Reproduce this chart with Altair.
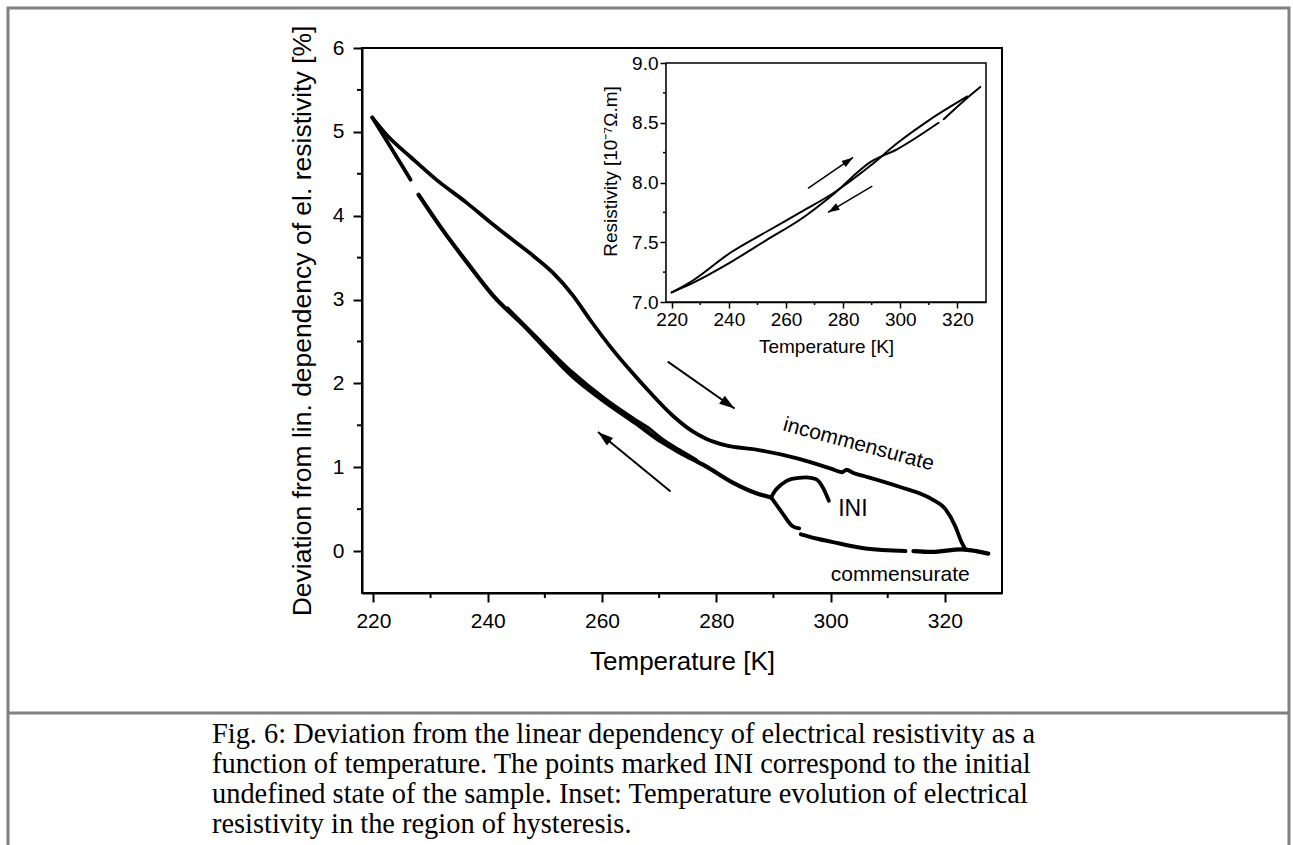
import math
import altair as alt
import pandas as pd

# ---------------- main plot: deviation from linear dependency [%] vs T [K] ----------------
heat_T = [219.8, 222.5, 226.5, 231.0, 236.4, 240.5, 244.4, 248.0, 251.4, 254.9, 258.0, 261.9,
          265.0, 268.3, 272.3, 275.8, 278.2, 281.7, 287.0, 294.5, 300.2, 302.0, 302.8, 304.0,
          306.1, 311.9, 317.7, 320.1, 321.8, 322.9, 323.6]
heat_D = [5.17, 4.95, 4.70, 4.43, 4.15, 3.92, 3.71, 3.52, 3.32, 3.05, 2.75, 2.40,
          2.15, 1.90, 1.62, 1.43, 1.34, 1.26, 1.21, 1.10, 0.98, 0.94, 0.97, 0.93,
          0.89, 0.77, 0.62, 0.50, 0.30, 0.11, 0.02]

cool_a_T = [219.8, 223.0, 226.5]
cool_a_D = [5.17, 4.82, 4.43]

cool_b_T = [227.9, 231.7, 236.4, 240.9, 246.6, 254.9, 260.5, 265.8, 270.5, 273.5, 278.2,
            282.8, 287.0, 289.6]
cool_b_D = [4.25, 3.87, 3.44, 3.05, 2.67, 2.08, 1.78, 1.53, 1.30, 1.18, 1.01,
            0.82, 0.69, 0.64]

# second trace running alongside the cooling branch (thick double band)
band_T = [243.5, 248.0, 254.9, 260.5, 265.8, 268.5, 270.5, 273.5, 276.5]
band_D = [2.90, 2.59, 2.13, 1.82, 1.57, 1.45, 1.34, 1.21, 1.09]

ini_T = [289.6, 290.3, 291.3, 293.2, 295.7, 297.4, 298.8, 299.7]
ini_D = [0.64, 0.72, 0.79, 0.86, 0.88, 0.86, 0.74, 0.60]

drop_T = [289.6, 291.5, 293.3, 294.5]
drop_D = [0.64, 0.46, 0.30, 0.27]

comm_a_T = [294.8, 297.5, 300.2, 306.1, 313.1]
comm_a_D = [0.20, 0.15, 0.11, 0.03, 0.00]

comm_b_T = [314.5, 317.7, 322.9, 325.5, 327.6]
comm_b_D = [0.00, -0.01, 0.02, 0.00, -0.03]

# ---------------- inset: resistivity [1e-7 Ohm m] vs T [K] ----------------
ins_a_T = [220.0, 227.4, 240.4, 253.3, 265.0, 276.5, 289.5, 299.0, 310.0, 323.5]
ins_a_R = [7.08, 7.18, 7.41, 7.59, 7.75, 7.91, 8.14, 8.33, 8.52, 8.72]
ins_b_T = [220.0, 227.4, 240.4, 253.3, 265.0, 276.5, 289.5, 299.0, 313.4]
ins_b_R = [7.08, 7.16, 7.33, 7.52, 7.69, 7.90, 8.17, 8.28, 8.50]
ins_c_T = [315.2, 323.5, 328.0]
ins_c_R = [8.53, 8.71, 8.80]

# axis ticks
main_x_major = [220, 240, 260, 280, 300, 320]
main_x_minor = [230, 250, 270, 290, 310]
main_y_major = [0, 1, 2, 3, 4, 5, 6]
main_y_minor = [0.5, 1.5, 2.5, 3.5, 4.5, 5.5]
ins_x_major = [220, 240, 260, 280, 300, 320]
ins_x_minor = [230, 250, 270, 290, 310]
ins_y_major = [7.0, 7.5, 8.0, 8.5, 9.0]
ins_y_minor = [7.25, 7.75, 8.25, 8.75]

# arrows (start -> end)
m_arrow_T0 = [271.5, 272.0]
m_arrow_D0 = [2.26, 0.71]
m_arrow_T1 = [283.2, 259.3]
m_arrow_D1 = [1.70, 1.42]

i_arrow_T0 = [267.7, 290.2]
i_arrow_R0 = [7.95, 7.97]
i_arrow_T1 = [283.5, 274.7]
i_arrow_R1 = [8.21, 7.75]

# annotations
note_text = ["incommensurate", "INI", "commensurate"]
note_T = [304.9, 303.9, 312.2]
note_D = [1.27, 0.50, -0.29]

caption_lines = [
    "Fig. 6: Deviation from the linear dependency of electrical resistivity as a",
    "function of temperature. The points marked INI correspond to the initial",
    "undefined state of the sample. Inset: Temperature evolution of electrical",
    "resistivity in the region of hysteresis.",
]

# ---------------- layout ----------------
W, H = 640, 545
PAD = {"left": 362, "top": 48, "right": 291, "bottom": 252}
XD_MAIN = [218, 330]
YD_MAIN = [-0.5, 6]
XD_INS = [218, 330]
YD_INS = [7.0, 9.0]
INS_X = [304, 624]
INS_Y = [254, 15]

FONT = "Liberation Sans"


def seg_frame(name, xs, ys, xc, yc, w):
    return pd.DataFrame({xc: xs, yc: ys, "seg": name, "w": w, "i": list(range(len(xs)))})


main_df = pd.concat([
    seg_frame("heat", heat_T, heat_D, "T", "D", 3.8),
    seg_frame("cool_a", cool_a_T, cool_a_D, "T", "D", 3.8),
    seg_frame("cool_b", cool_b_T, cool_b_D, "T", "D", 4.2),
    seg_frame("band", band_T, band_D, "T", "D", 3.0),
    seg_frame("ini", ini_T, ini_D, "T", "D", 3.8),
    seg_frame("drop", drop_T, drop_D, "T", "D", 3.8),
    seg_frame("comm_a", comm_a_T, comm_a_D, "T", "D", 4.0),
    seg_frame("comm_b", comm_b_T, comm_b_D, "T", "D", 4.2),
], ignore_index=True)

ins_df = pd.concat([
    seg_frame("a", ins_a_T, ins_a_R, "T", "R", 2),
    seg_frame("b", ins_b_T, ins_b_R, "T", "R", 2),
    seg_frame("c", ins_c_T, ins_c_R, "T", "R", 2),
], ignore_index=True)

sx_m = W / (XD_MAIN[1] - XD_MAIN[0])
sy_m = H / (YD_MAIN[1] - YD_MAIN[0])
sx_i = (INS_X[1] - INS_X[0]) / (XD_INS[1] - XD_INS[0])
sy_i = (INS_Y[0] - INS_Y[1]) / (YD_INS[1] - YD_INS[0])


def head_angle(x0, y0, x1, y1, sx, sy):
    a = math.degrees(math.atan2((x1 - x0) * sx, (y1 - y0) * sy))
    return a % 360


m_arrow_df = pd.DataFrame({"T0": m_arrow_T0, "D0": m_arrow_D0, "T1": m_arrow_T1, "D1": m_arrow_D1})
m_arrow_df["ang"] = [head_angle(a, b, c, d, sx_m, sy_m) for a, b, c, d in
                     zip(m_arrow_T0, m_arrow_D0, m_arrow_T1, m_arrow_D1)]
i_arrow_df = pd.DataFrame({"T0": i_arrow_T0, "R0": i_arrow_R0, "T1": i_arrow_T1, "R1": i_arrow_R1})
i_arrow_df["ang"] = [head_angle(a, b, c, d, sx_i, sy_i) for a, b, c, d in
                     zip(i_arrow_T0, i_arrow_R0, i_arrow_T1, i_arrow_R1)]

note_df = pd.DataFrame({"txt": note_text, "T": note_T, "D": note_D,
                        "ang": [15, 0, 0], "fs": [21, 23, 21]})

HEAD = "M0,0L-0.7,2.2L0.7,2.2Z"


def xs_main():
    return alt.Scale(domain=XD_MAIN, nice=False, zero=False)


def ys_main():
    return alt.Scale(domain=YD_MAIN, nice=False, zero=False)


def xs_ins():
    return alt.Scale(domain=XD_INS, range=INS_X, nice=False, zero=False)


def ys_ins():
    return alt.Scale(domain=YD_INS, range=INS_Y, nice=False, zero=False)


# ---------------- main plot ----------------
x_axis_main = alt.Axis(
    values=main_x_major, tickSize=9, labelFontSize=21, titleFontSize=26,
    labelPadding=8, titlePadding=17, domainWidth=2, tickWidth=2, grid=False,
    labelOverlap=False, labelFlush=False, title="Temperature [K]",
)
y_axis_main = alt.Axis(
    values=main_y_major, tickSize=9, labelFontSize=21, titleFontSize=26.5,
    labelPadding=9, titlePadding=16, domainWidth=2, tickWidth=2, grid=False,
    labelOverlap=False, title="Deviation from lin. dependency of el. resistivity [%]",
)

curves = alt.Chart(main_df).mark_line(
    color="black", interpolate="monotone", strokeCap="round", strokeJoin="round"
).encode(
    x=alt.X("T:Q", scale=xs_main(), axis=x_axis_main),
    y=alt.Y("D:Q", scale=ys_main(), axis=y_axis_main),
    strokeWidth=alt.StrokeWidth("w:Q", scale=None),
    detail="seg:N",
    order="i:Q",
)

mx_minor = alt.Chart(pd.DataFrame({"v": main_x_minor})).mark_rule(color="black", strokeWidth=2).encode(
    x=alt.X("v:Q", scale=xs_main(), axis=None),
    y=alt.value(H), y2=alt.value(H + 5),
)
my_minor = alt.Chart(pd.DataFrame({"v": main_y_minor})).mark_rule(color="black", strokeWidth=2).encode(
    y=alt.Y("v:Q", scale=ys_main(), axis=None),
    x=alt.value(0), x2=alt.value(-5),
)

m_shafts = alt.Chart(m_arrow_df).mark_rule(color="black", strokeWidth=2).encode(
    x=alt.X("T0:Q", scale=xs_main(), axis=None),
    y=alt.Y("D0:Q", scale=ys_main(), axis=None),
    x2="T1:Q", y2="D1:Q",
)
m_heads = alt.Chart(m_arrow_df).mark_point(
    shape=HEAD, filled=True, color="black", opacity=1, size=196, strokeWidth=0
).encode(
    x=alt.X("T1:Q", scale=xs_main(), axis=None),
    y=alt.Y("D1:Q", scale=ys_main(), axis=None),
    angle=alt.Angle("ang:Q", scale=None),
)

notes = alt.Chart(note_df).mark_text(font=FONT, color="black", align="center", baseline="middle").encode(
    x=alt.X("T:Q", scale=xs_main(), axis=None),
    y=alt.Y("D:Q", scale=ys_main(), axis=None),
    text="txt:N",
    angle=alt.Angle("ang:Q", scale=None),
    size=alt.Size("fs:Q", scale=None),
)

# ---------------- inset ----------------
x_axis_ins = alt.Axis(
    orient="bottom", offset=-(H - INS_Y[0]),
    values=ins_x_major, tickSize=6, labelFontSize=19, titleFontSize=19,
    labelPadding=2, titlePadding=8, domainWidth=1.5, tickWidth=1.5, grid=False,
    labelOverlap=False, labelFlush=False, title="Temperature [K]",
)
y_axis_ins = alt.Axis(
    orient="left", offset=-INS_X[0],
    values=ins_y_major, format=".1f", tickSize=6, labelFontSize=19, titleFontSize=19,
    labelPadding=2, titlePadding=11, domainWidth=1.5, tickWidth=1.5, grid=False,
    labelOverlap=False, title="Resistivity [10⁻⁷Ω.m]", titleY=123,
)

frame_df = pd.DataFrame({"x0": [XD_INS[0]], "x1": [XD_INS[1]], "y0": [YD_INS[0]], "y1": [YD_INS[1]]})
ins_frame = alt.Chart(frame_df).mark_rect(fill="white", stroke="black", strokeWidth=1.5).encode(
    x=alt.X("x0:Q", scale=xs_ins(), axis=x_axis_ins),
    y=alt.Y("y0:Q", scale=ys_ins(), axis=y_axis_ins),
    x2="x1:Q", y2="y1:Q",
)
ix_minor = alt.Chart(pd.DataFrame({"v": ins_x_minor})).mark_rule(color="black", strokeWidth=1.5).encode(
    x=alt.X("v:Q", scale=xs_ins(), axis=None),
    y=alt.value(INS_Y[0]), y2=alt.value(INS_Y[0] + 3),
)
iy_minor = alt.Chart(pd.DataFrame({"v": ins_y_minor})).mark_rule(color="black", strokeWidth=1.5).encode(
    y=alt.Y("v:Q", scale=ys_ins(), axis=None),
    x=alt.value(INS_X[0]), x2=alt.value(INS_X[0] - 3),
)
ins_lines = alt.Chart(ins_df).mark_line(
    color="black", interpolate="monotone", strokeCap="round"
).encode(
    x=alt.X("T:Q", scale=xs_ins(), axis=None),
    y=alt.Y("R:Q", scale=ys_ins(), axis=None),
    strokeWidth=alt.StrokeWidth("w:Q", scale=None),
    detail="seg:N",
    order="i:Q",
)
i_shafts = alt.Chart(i_arrow_df).mark_rule(color="black", strokeWidth=1.5).encode(
    x=alt.X("T0:Q", scale=xs_ins(), axis=None),
    y=alt.Y("R0:Q", scale=ys_ins(), axis=None),
    x2="T1:Q", y2="R1:Q",
)
i_heads = alt.Chart(i_arrow_df).mark_point(
    shape=HEAD, filled=True, color="black", opacity=1, size=110, strokeWidth=0
).encode(
    x=alt.X("T1:Q", scale=xs_ins(), axis=None),
    y=alt.Y("R1:Q", scale=ys_ins(), axis=None),
    angle=alt.Angle("ang:Q", scale=None),
)

# ---------------- page decorations ----------------
one = pd.DataFrame({"k": [0]})
page_frame = alt.Chart(one).mark_rect(fillOpacity=0, stroke="#808080", strokeWidth=3).encode(
    x=alt.value(8 - PAD["left"]), x2=alt.value(1289 - PAD["left"]),
    y=alt.value(8 - PAD["top"]), y2=alt.value(900),
)
separator = alt.Chart(one).mark_rule(color="#808080", strokeWidth=3).encode(
    x=alt.value(8 - PAD["left"]), x2=alt.value(1289 - PAD["left"]),
    y=alt.value(713 - PAD["top"]),
)
caption = alt.Chart(one).mark_text(
    font="Liberation Serif", fontSize=28.4, lineHeight=30, align="left", baseline="alphabetic", color="black"
).encode(
    x=alt.value(212 - PAD["left"]), y=alt.value(743 - PAD["top"]),
    text=alt.value(caption_lines),
)

chart = alt.layer(
    page_frame, separator, caption,
    curves, mx_minor, my_minor, m_shafts, m_heads, notes,
    ins_frame, ix_minor, iy_minor, ins_lines, i_shafts, i_heads,
).resolve_scale(
    x="independent", y="independent"
).resolve_axis(
    x="independent", y="independent"
).properties(
    width=W, height=H, padding=PAD, autosize="none", background="white"
).configure_view(
    stroke="black", strokeWidth=2
).configure_axis(
    labelFont=FONT, titleFont=FONT, labelColor="black", titleColor="black",
    domainColor="black", tickColor="black", titleFontWeight="normal"
)

chart.save("out.html", embed_options={"renderer": "svg", "actions": False})
